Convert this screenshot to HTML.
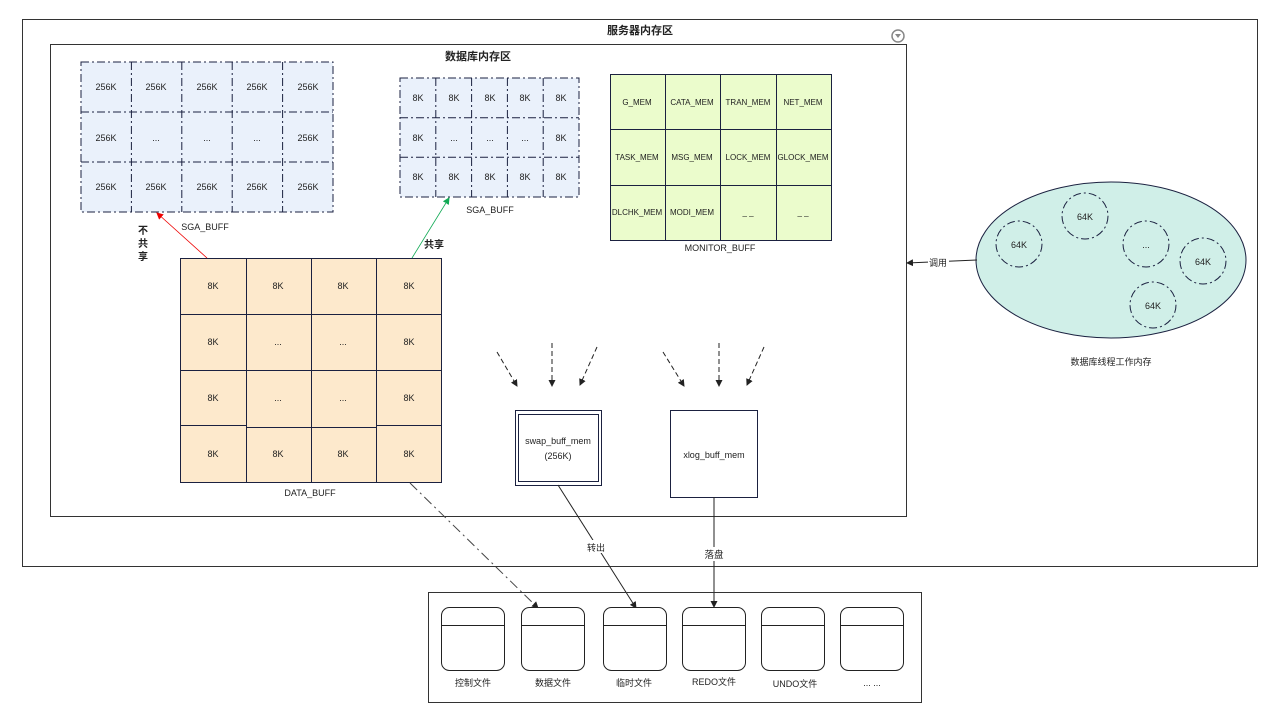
<!DOCTYPE html>
<html><head><meta charset="utf-8"><style>
html,body{margin:0;padding:0;background:#fff;}
svg{display:block;}
text{font-family:"Liberation Sans","Noto Sans CJK SC",sans-serif;font-size:9px;fill:#222;}
.b{font-weight:bold;font-size:11px;}
</style></head><body>
<svg width="1278" height="713" viewBox="0 0 1278 713" xmlns="http://www.w3.org/2000/svg">
<defs>
<marker id="ak" markerWidth="7" markerHeight="7" refX="6" refY="3.5" orient="auto" markerUnits="userSpaceOnUse"><path d="M0,0 L7,3.5 L0,7 z" fill="#222"/></marker>
<marker id="ar" markerWidth="7" markerHeight="7" refX="6" refY="3.5" orient="auto" markerUnits="userSpaceOnUse"><path d="M0,0 L7,3.5 L0,7 z" fill="#e00"/></marker>
<marker id="ag" markerWidth="7" markerHeight="7" refX="6" refY="3.5" orient="auto" markerUnits="userSpaceOnUse"><path d="M0,0 L7,3.5 L0,7 z" fill="#1a5"/></marker>
</defs>
<rect x="22.5" y="19.5" width="1235" height="547" fill="none" stroke="#333"/>
<text x="640" y="34" text-anchor="middle" class="b">服务器内存区</text>
<circle cx="898" cy="36" r="6" fill="none" stroke="#888" stroke-width="1.5"/>
<path d="M895,34 L901,34 L898,38 z" fill="#888"/>
<rect x="50.5" y="44.5" width="856" height="472" fill="none" stroke="#333"/>
<text x="478" y="60" text-anchor="middle" class="b">数据库内存区</text>

<g stroke="#1b2140" stroke-dasharray="8,3,2,3" fill="none">
<rect x="81" y="62" width="252" height="150" fill="#eaf1fb"/>
<line x1="131.4" y1="62" x2="131.4" y2="212"/><line x1="181.8" y1="62" x2="181.8" y2="212"/><line x1="232.2" y1="62" x2="232.2" y2="212"/><line x1="282.6" y1="62" x2="282.6" y2="212"/>
<line x1="81" y1="112" x2="333" y2="112"/><line x1="81" y1="162" x2="333" y2="162"/>
</g>
<g text-anchor="middle">
<text x="106" y="90">256K</text><text x="156" y="90">256K</text><text x="207" y="90">256K</text><text x="257" y="90">256K</text><text x="308" y="90">256K</text>
<text x="106" y="141">256K</text><text x="156" y="141">...</text><text x="207" y="141">...</text><text x="257" y="141">...</text><text x="308" y="141">256K</text>
<text x="106" y="190">256K</text><text x="156" y="190">256K</text><text x="207" y="190">256K</text><text x="257" y="190">256K</text><text x="308" y="190">256K</text>
<text x="205" y="230">SGA_BUFF</text>
</g>

<g stroke="#1b2140" stroke-dasharray="8,3,2,3" fill="none">
<rect x="400" y="78" width="179" height="119" fill="#eaf1fb"/>
<line x1="435.8" y1="78" x2="435.8" y2="197"/><line x1="471.6" y1="78" x2="471.6" y2="197"/><line x1="507.4" y1="78" x2="507.4" y2="197"/><line x1="543.2" y1="78" x2="543.2" y2="197"/>
<line x1="400" y1="117.7" x2="579" y2="117.7"/><line x1="400" y1="157.3" x2="579" y2="157.3"/>
</g>
<g text-anchor="middle">
<text x="418" y="101">8K</text><text x="454" y="101">8K</text><text x="490" y="101">8K</text><text x="525" y="101">8K</text><text x="561" y="101">8K</text>
<text x="418" y="141">8K</text><text x="454" y="141">...</text><text x="490" y="141">...</text><text x="525" y="141">...</text><text x="561" y="141">8K</text>
<text x="418" y="180">8K</text><text x="454" y="180">8K</text><text x="490" y="180">8K</text><text x="525" y="180">8K</text><text x="561" y="180">8K</text>
<text x="490" y="213">SGA_BUFF</text>
</g>

<g stroke="#1b2140" fill="none">
<rect x="610.5" y="74.5" width="221" height="166" fill="#ebfccc"/>
<line x1="665.5" y1="74" x2="665.5" y2="240"/><line x1="720.5" y1="74" x2="720.5" y2="240"/><line x1="776.5" y1="74" x2="776.5" y2="240"/>
<line x1="610" y1="129.5" x2="831" y2="129.5"/><line x1="610" y1="185.5" x2="831" y2="185.5"/>
</g>
<g text-anchor="middle" style="font-size:8px">
<text x="637" y="105" style="font-size:8px">G_MEM</text><text x="692" y="105" style="font-size:8px">CATA_MEM</text><text x="748" y="105" style="font-size:8px">TRAN_MEM</text><text x="803" y="105" style="font-size:8px">NET_MEM</text>
<text x="637" y="160" style="font-size:8px">TASK_MEM</text><text x="692" y="160" style="font-size:8px">MSG_MEM</text><text x="748" y="160" style="font-size:8px">LOCK_MEM</text><text x="803" y="160" style="font-size:8px">GLOCK_MEM</text>
<text x="637" y="215" style="font-size:8px">DLCHK_MEM</text><text x="692" y="215" style="font-size:8px">MODI_MEM</text><text x="748" y="215" style="font-size:8px">_ _</text><text x="803" y="215" style="font-size:8px">_ _</text>
<text x="720" y="251">MONITOR_BUFF</text>
</g>

<g stroke="#1b2140" fill="none">
<rect x="180.5" y="258.5" width="261" height="224" fill="#fde9cc"/>
<line x1="246.5" y1="258" x2="246.5" y2="482"/><line x1="311.5" y1="258" x2="311.5" y2="482"/><line x1="376.5" y1="258" x2="376.5" y2="482"/>
<line x1="180" y1="314.5" x2="441" y2="314.5"/><line x1="180" y1="370.5" x2="441" y2="370.5"/>
<line x1="180" y1="425.5" x2="246" y2="425.5"/><line x1="246" y1="427.5" x2="376" y2="427.5"/><line x1="376" y1="425.5" x2="441" y2="425.5"/>
</g>
<g text-anchor="middle">
<text x="213" y="289">8K</text><text x="278" y="289">8K</text><text x="343" y="289">8K</text><text x="409" y="289">8K</text>
<text x="213" y="345">8K</text><text x="278" y="345">...</text><text x="343" y="345">...</text><text x="409" y="345">8K</text>
<text x="213" y="401">8K</text><text x="278" y="401">...</text><text x="343" y="401">...</text><text x="409" y="401">8K</text>
<text x="213" y="457">8K</text><text x="278" y="457">8K</text><text x="343" y="457">8K</text><text x="409" y="457">8K</text>
<text x="310" y="496">DATA_BUFF</text>
</g>

<line x1="207" y1="258" x2="157" y2="213" stroke="#e00" stroke-width="0.8" marker-end="url(#ar)"/>
<line x1="412" y1="258" x2="449" y2="198" stroke="#1a5" stroke-width="0.8" marker-end="url(#ag)"/>
<text x="143" y="234" text-anchor="middle" class="b" style="font-size:10px">不</text>
<text x="143" y="247" text-anchor="middle" class="b" style="font-size:10px">共</text>
<text x="143" y="260" text-anchor="middle" class="b" style="font-size:10px">享</text>
<text x="434" y="248" text-anchor="middle" class="b" style="font-size:10px">共享</text>

<g stroke="#222" stroke-dasharray="5,3" marker-end="url(#ak)">
<line x1="497" y1="352" x2="517" y2="386"/><line x1="552" y1="343" x2="552" y2="386"/><line x1="597" y1="347" x2="580" y2="385"/>
<line x1="663" y1="352" x2="684" y2="386"/><line x1="719" y1="343" x2="719" y2="386"/><line x1="764" y1="347" x2="747" y2="385"/>
</g>

<rect x="515.5" y="410.5" width="86" height="75" fill="none" stroke="#1b2140"/>
<rect x="518.5" y="414.5" width="80" height="67" fill="none" stroke="#1b2140"/>
<text x="558" y="444" text-anchor="middle">swap_buff_mem</text>
<text x="558" y="459" text-anchor="middle">(256K)</text>
<rect x="670.5" y="410.5" width="87" height="87" fill="none" stroke="#1b2140"/>
<text x="714" y="458" text-anchor="middle">xlog_buff_mem</text>

<line x1="558" y1="485" x2="636" y2="608" stroke="#222" marker-end="url(#ak)"/>
<rect x="585" y="540" width="22" height="13" fill="#fff"/>
<text x="596" y="551" text-anchor="middle">转出</text>
<line x1="714" y1="497" x2="714" y2="607" stroke="#222" marker-end="url(#ak)"/>
<rect x="702" y="547" width="24" height="14" fill="#fff"/>
<text x="714" y="558" text-anchor="middle" style="font-size:9.5px">落盘</text>
<line x1="410" y1="483" x2="538" y2="608" stroke="#444" stroke-dasharray="10,4,2,4" marker-end="url(#ak)"/>

<rect x="428.5" y="592.5" width="493" height="110" fill="none" stroke="#333"/>
<g fill="#fff" stroke="#222">
<rect x="441.5" y="607.5" width="63" height="63" rx="8"/><line x1="441.5" y1="625.5" x2="504.5" y2="625.5"/>
<rect x="521.5" y="607.5" width="63" height="63" rx="8"/><line x1="521.5" y1="625.5" x2="584.5" y2="625.5"/>
<rect x="603.5" y="607.5" width="63" height="63" rx="8"/><line x1="603.5" y1="625.5" x2="666.5" y2="625.5"/>
<rect x="682.5" y="607.5" width="63" height="63" rx="8"/><line x1="682.5" y1="625.5" x2="745.5" y2="625.5"/>
<rect x="761.5" y="607.5" width="63" height="63" rx="8"/><line x1="761.5" y1="625.5" x2="824.5" y2="625.5"/>
<rect x="840.5" y="607.5" width="63" height="63" rx="8"/><line x1="840.5" y1="625.5" x2="903.5" y2="625.5"/>
</g>
<g text-anchor="middle">
<text x="473" y="686">控制文件</text><text x="553" y="686">数据文件</text><text x="634" y="686">临时文件</text>
<text x="714" y="685">REDO文件</text><text x="795" y="687">UNDO文件</text><text x="872" y="686">... ...</text>
</g>

<ellipse cx="1111" cy="260" rx="135" ry="78" fill="#d0efe8" stroke="#1b2140"/>
<g fill="none" stroke="#1b2140" stroke-dasharray="8,3,2,3">
<circle cx="1019" cy="244" r="23"/><circle cx="1085" cy="216" r="23"/><circle cx="1146" cy="244" r="23"/><circle cx="1203" cy="261" r="23"/><circle cx="1153" cy="305" r="23"/>
</g>
<g text-anchor="middle">
<text x="1019" y="248">64K</text><text x="1085" y="220">64K</text><text x="1146" y="248">...</text><text x="1203" y="265">64K</text><text x="1153" y="309">64K</text>
<text x="1111" y="365">数据库线程工作内存</text>
</g>
<line x1="977" y1="260" x2="907" y2="263" stroke="#222" marker-end="url(#ak)"/>
<rect x="928" y="256" width="21" height="12" fill="#fff"/>
<text x="938" y="266" text-anchor="middle">调用</text>
</svg>
</body></html>
